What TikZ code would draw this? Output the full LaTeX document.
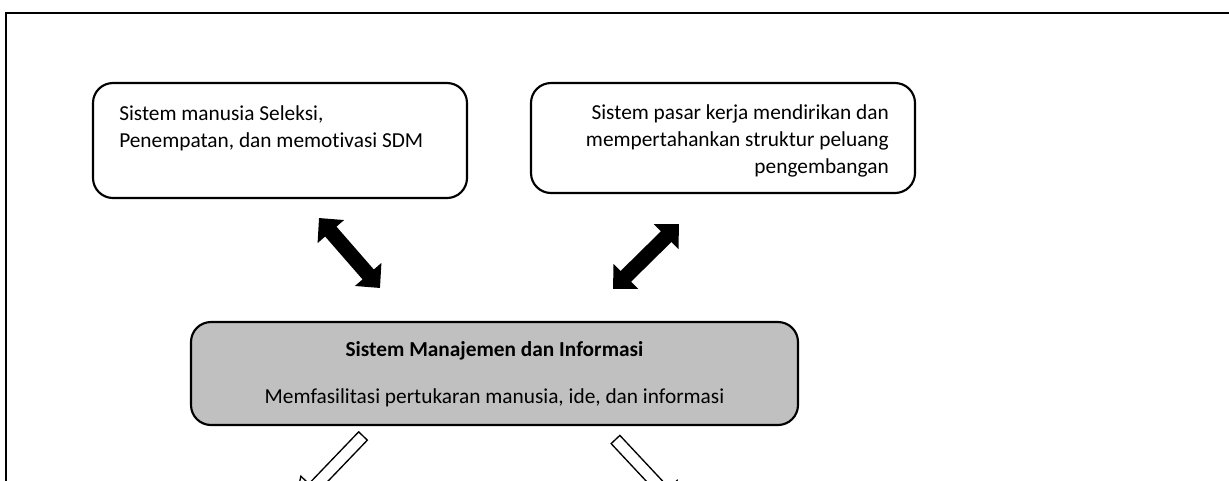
\documentclass[tikz,border=0pt]{standalone}
\usepackage{fontspec}
\setmainfont{Carlito}[Ligatures=NoCommon]
\usetikzlibrary{arrows.meta}
\definecolor{boxgray}{HTML}{C0C0C0}
\tikzset{
  roundbox/.style={draw=black, line width=1.6pt, rounded corners=15pt, inner sep=0pt},
  txt/.style={inner sep=0pt, font=\fontsize{16}{20.25}\selectfont},
  boldtxt/.style={inner sep=0pt, font=\fontsize{16}{18}\selectfont\bfseries},
  fatarrow/.style={line width=11.25pt, {Triangle[length=13.5pt,width=25.5pt]}-{Triangle[length=13.5pt,width=25.5pt]}},
  hollow/.style={draw=black, fill=white, line width=1pt, line join=miter}
}
\begin{document}
\begin{tikzpicture}[x=0.75pt,y=-0.75pt]
\useasboundingbox (0,0) rectangle (1229,480);
\clip (0,0) rectangle (1229,480);
\fill[white] (0,0) rectangle (1229,480);
% outer frame
\draw[line width=1.9pt] (6,520) -- (6,13) -- (1260,13);
% boxes
\node[roundbox, minimum width=374*0.75pt, minimum height=115*0.75pt] (b1) at (280,140.5) {};
\node[roundbox, minimum width=384*0.75pt, minimum height=110*0.75pt] (b2) at (723,138) {};
\node[roundbox, fill=boxgray, minimum width=607*0.75pt, minimum height=103*0.75pt] (c) at (494.5,373.5) {};
% texts
\node[txt, anchor=west, align=left] (t1) at (119,128.5) {Sistem manusia Seleksi,\\Penempatan, dan memotivasi SDM};
\node[txt, anchor=east, align=right] (t2) at (889,141) {Sistem pasar kerja mendirikan dan\\mempertahankan struktur peluang\\pengembangan};
\node[boldtxt] (c1) at (494.5,351) {Sistem Manajemen dan Informasi};
\node[txt] (c2) at (494.5,398) {Memfasilitasi pertukaran manusia, ide, dan informasi};
% black double arrows
\coordinate (a1) at (319,218);
\coordinate (a2) at (380,288);
\coordinate (a3) at (613,289);
\coordinate (a4) at (679,224);
\draw[fatarrow] (a1) -- (a2);
\draw[fatarrow] (a3) -- (a4);
% hollow arrows leaving the central box
\coordinate (h1) at (363,436);
\coordinate (h2) at (615.5,439.5);
\begin{scope}[shift={(h1)}, rotate=226.2]
\draw[hollow] (0,6) -- (72,6) -- (72,17) -- (100,0) -- (72,-17) -- (72,-6) -- (0,-6) -- cycle;
\end{scope}
\begin{scope}[shift={(h2)}, rotate=-46.9]
\draw[hollow] (0,6) -- (72,6) -- (72,17) -- (100,0) -- (72,-17) -- (72,-6) -- (0,-6) -- cycle;
\end{scope}
\end{tikzpicture}
\end{document}
